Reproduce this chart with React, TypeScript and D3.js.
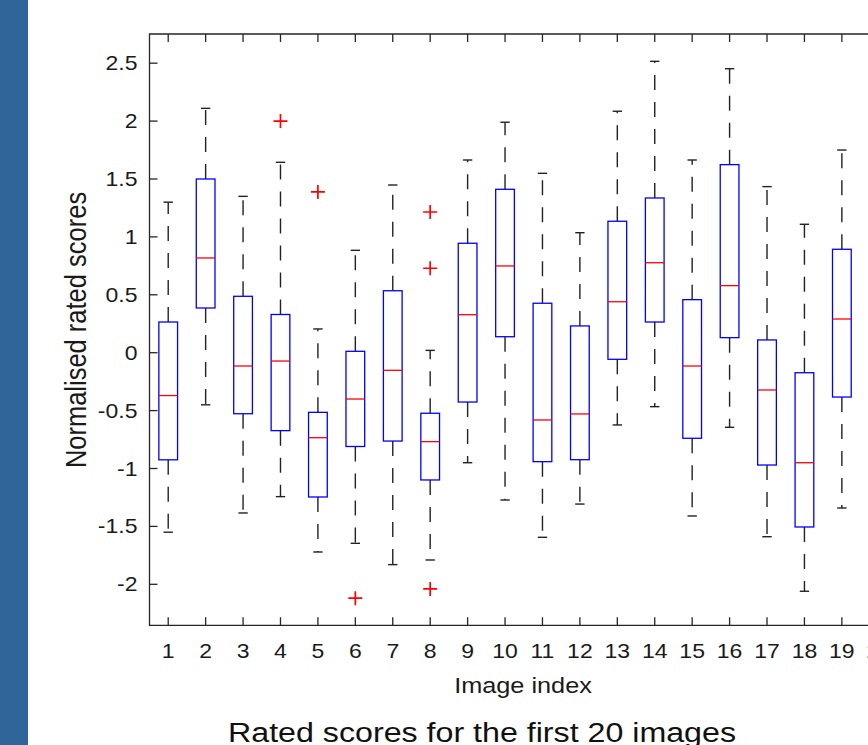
import React, { useRef, useEffect } from 'react';
import * as d3 from 'd3';

// values (image 20 is cut off at the right edge)
const imageIds = [1, 2, 3, 4, 5, 6, 7, 8, 9, 10, 11, 12, 13, 14, 15, 16, 17, 18, 19];
const whiskerHigh = [1.30, 2.11, 1.35, 1.644, 0.205, 0.884, 1.448, 0.02, 1.664, 1.99, 1.549, 1.036, 2.085, 2.516, 1.664, 2.452, 1.434, 1.109, 1.75];
const q3 = [0.265, 1.50, 0.487, 0.33, -0.515, 0.012, 0.535, -0.523, 0.945, 1.411, 0.427, 0.231, 1.135, 1.336, 0.458, 1.624, 0.11, -0.173, 0.893];
const medians = [-0.37, 0.818, -0.115, -0.072, -0.734, -0.40, -0.152, -0.768, 0.328, 0.749, -0.581, -0.529, 0.44, 0.777, -0.115, 0.579, -0.322, -0.95, 0.291];
const q1 = [-0.925, 0.386, -0.527, -0.673, -1.246, -0.81, -0.763, -1.099, -0.426, 0.138, -0.941, -0.924, -0.057, 0.265, -0.739, 0.13, -0.97, -1.505, -0.383];
const whiskerLow = [-1.55, -0.45, -1.384, -1.243, -1.721, -1.646, -1.83, -1.79, -0.95, -1.272, -1.594, -1.307, -0.624, -0.466, -1.41, -0.644, -1.589, -2.06, -1.341];
const outlierIds = [4, 5, 6, 8, 8, 8];
const outlierValues = [2.0, 1.388, -2.12, 1.215, 0.729, -2.04];

const xTicks = d3.range(1, 21);
const yTicks = [-2, -1.5, -1, -0.5, 0, 0.5, 1, 1.5, 2, 2.5];

const STRETCH = 1.15; // the source picture is widened horizontally
const FONT = 'Liberation Sans, Arial, Helvetica, sans-serif';

const App = () => {
  const ref = useRef(null);

  useEffect(() => {
    const svg = d3.select(ref.current);
    svg.selectAll('*').remove();

    const x = d3.scaleLinear().domain([0.5, 20.5]).range([149.5, 898]);
    const y = d3.scaleLinear().domain([-2.354, 2.752]).range([625.3, 34]);
    const step = x(2) - x(1);
    const boxW = step * 0.5;
    const capW = boxW * 0.5;
    const axisColor = '#262626';

    // slide band on the left
    svg.append('rect')
      .attr('x', 0).attr('y', 0)
      .attr('width', 28).attr('height', 745)
      .attr('fill', '#2f6599');

    const g = svg.append('g');

    // boxes
    imageIds.forEach((id, i) => {
      const cx = x(id);
      // dashed whiskers
      g.append('line')
        .attr('x1', cx).attr('x2', cx)
        .attr('y1', y(q3[i])).attr('y2', y(whiskerHigh[i]))
        .attr('stroke', '#222').attr('stroke-width', 1.4)
        .attr('stroke-dasharray', '15,12');
      g.append('line')
        .attr('x1', cx).attr('x2', cx)
        .attr('y1', y(q1[i])).attr('y2', y(whiskerLow[i]))
        .attr('stroke', '#222').attr('stroke-width', 1.4)
        .attr('stroke-dasharray', '15,12');
      // caps
      [whiskerHigh[i], whiskerLow[i]].forEach(v => {
        g.append('line')
          .attr('x1', cx - capW / 2).attr('x2', cx + capW / 2)
          .attr('y1', y(v)).attr('y2', y(v))
          .attr('stroke', '#222').attr('stroke-width', 1.4);
      });
      g.append('rect')
        .attr('x', cx - boxW / 2)
        .attr('y', y(q3[i]))
        .attr('width', boxW)
        .attr('height', y(q1[i]) - y(q3[i]))
        .attr('fill', 'white')
        .attr('stroke', '#0000ff')
        .attr('stroke-width', 1.3);
      g.append('line')
        .attr('x1', cx - boxW / 2).attr('x2', cx + boxW / 2)
        .attr('y1', y(medians[i])).attr('y2', y(medians[i]))
        .attr('stroke', '#ff0000').attr('stroke-width', 1.3);
    });

    // outliers as red plus signs
    outlierIds.forEach((id, i) => {
      const cx = x(id), cy = y(outlierValues[i]);
      g.append('path')
        .attr('d', `M${cx - 7},${cy}H${cx + 7}M${cx},${cy - 7}V${cy + 7}`)
        .attr('stroke', '#ff0000').attr('stroke-width', 1.7)
        .attr('fill', 'none');
    });

    // axes frame
    const [x0, x1] = x.range();
    const [yb, yt] = y.range();
    svg.append('path')
      .attr('d', `M${x1},${yt}H${x0}V${yb}H${x1}`)
      .attr('stroke', axisColor).attr('stroke-width', 1.3).attr('fill', 'none');

    // inward ticks
    xTicks.forEach(t => {
      svg.append('path')
        .attr('d', `M${x(t)},${yb}v-8M${x(t)},${yt}v8`)
        .attr('stroke', axisColor).attr('stroke-width', 1.3);
      svg.append('text')
        .attr('transform', `translate(${x(t)},${yb + 33}) scale(${STRETCH},1)`)
        .attr('text-anchor', 'middle')
        .attr('font-family', FONT).attr('font-size', 20)
        .attr('fill', '#1a1a1a')
        .text(t);
    });
    yTicks.forEach(t => {
      svg.append('path')
        .attr('d', `M${x0},${y(t)}h8`)
        .attr('stroke', axisColor).attr('stroke-width', 1.3);
      svg.append('text')
        .attr('transform', `translate(${x0 - 12},${y(t) + 7}) scale(${STRETCH},1)`)
        .attr('text-anchor', 'end')
        .attr('font-family', FONT).attr('font-size', 20)
        .attr('fill', '#1a1a1a')
        .text(t);
    });

    // axis labels
    svg.append('text')
      .attr('transform', `translate(523,693) scale(${STRETCH},1)`)
      .attr('text-anchor', 'middle')
      .attr('font-family', FONT).attr('font-size', 22)
      .attr('fill', '#1a1a1a')
      .text('Image index');

    svg.append('text')
      .attr('transform', `translate(86,330) scale(${STRETCH},1) rotate(-90)`)
      .attr('text-anchor', 'middle')
      .attr('font-family', FONT).attr('font-size', 25.5)
      .attr('fill', '#1a1a1a')
      .text('Normalised rated scores');

    // caption under the figure
    svg.append('text')
      .attr('transform', `translate(482,742) scale(${STRETCH},1)`)
      .attr('text-anchor', 'middle')
      .attr('font-family', FONT).attr('font-size', 28)
      .attr('fill', '#111')
      .text('Rated scores for the first 20 images');
  }, []);

  return (
    <svg
      ref={ref}
      width={868}
      height={745}
      style={{ position: 'absolute', left: 0, top: 0, background: 'white' }}
    />
  );
};

export default App;
